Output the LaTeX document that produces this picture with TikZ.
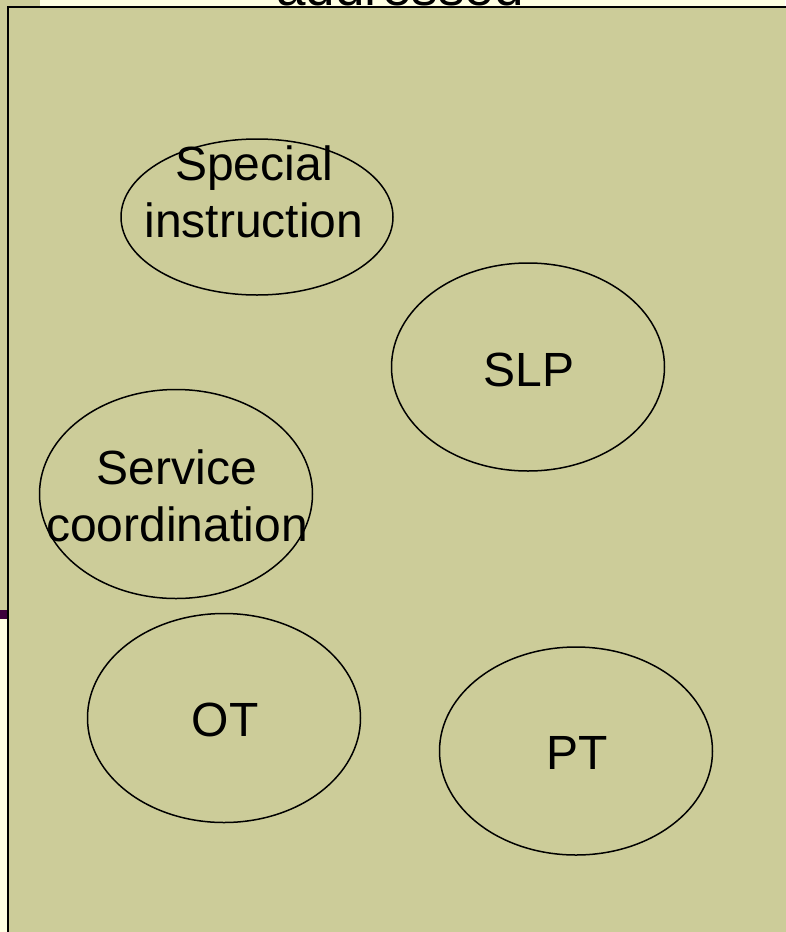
\documentclass[tikz,border=0pt]{standalone}
\usepackage{fontspec}
\setmainfont{Liberation Sans}
\definecolor{cream}{RGB}{255,255,227}
\definecolor{olive}{RGB}{204,204,153}
\definecolor{plum}{RGB}{60,0,60}
\tikzset{
  lbl/.style={inner sep=0pt,align=center,font=\fontsize{48}{57}\selectfont},
  oval/.style={line width=1.5pt}
}
\begin{document}
\begin{tikzpicture}[x=1pt,y=-1pt]
        % Page background
        \fill[cream] (0,0) rectangle (785,932);
        \useasboundingbox (0,0) rectangle (785,932);

        % Panel lying behind, and its dark bar
        \fill[olive] (0,0) rectangle (40,610);
        \fill[plum] (0,610) rectangle (40,619);

        % Title, mostly hidden by the box
        \node[lbl,anchor=base,font=\fontsize{53}{60}\selectfont] (title) at (400,5) {addressed};

        % Main box
        \draw[fill=olive,line width=2.5pt] (8,7) rectangle (800,950);

        % Ellipses
        \draw[oval] (257,217) ellipse [x radius=136, y radius=78];
        \draw[oval] (528,367) ellipse [x radius=136.5, y radius=104];
        \draw[oval] (176,494) ellipse [x radius=136.5, y radius=104.5];
        \draw[oval] (224,718) ellipse [x radius=136.5, y radius=104.5];
        \draw[oval] (576,751) ellipse [x radius=136.5, y radius=104];

        % Labels
        \node[lbl] (special) at (254,192) {Special\\instruction};
        \node[lbl] (slp) at (529,370) {SLP};
        \node[lbl] (service) at (177,496) {Service\\coordination};
        \node[lbl] (ot) at (225,720) {OT};
        \node[lbl] (pt) at (577,753) {PT};
\end{tikzpicture}
\end{document}
